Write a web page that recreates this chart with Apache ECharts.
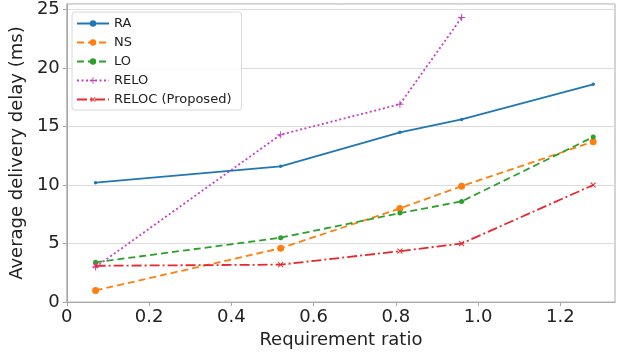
<!DOCTYPE html>
<html>
<head>
<meta charset="utf-8">
<script src="https://cdn.jsdelivr.net/npm/echarts@6/dist/echarts.min.js"></script>
<style>html,body{margin:0;padding:0;background:#fff}#c{width:628px;height:354px}</style>
</head>
<body>
<div id="c"></div>
<script>
const xVals = [0.07, 0.52, 0.81, 0.96, 1.28];
const seriesNames = ['RA', 'NS', 'LO', 'RELO', 'RELOC (Proposed)'];
const RA = [10.2, 11.6, 14.5, 15.6, 18.6];
const NS = [1.0, 4.6, 8.0, 9.9, 13.7];
const LO = [3.4, 5.5, 7.6, 8.6, 14.1];
const RELO = [3.0, 14.3, 16.9, 24.3];
const RELOC = [3.1, 3.2, 4.35, 5.0, 10.0];
const xTicks = [0, 0.2, 0.4, 0.6, 0.8, 1.0, 1.2];
const yTicks = [0, 5, 10, 15, 20, 25];

const pairs = (ys) => ys.map((y, i) => [xVals[i], y]);
const PLUS = 'path://M-0.14,-1 L0.14,-1 L0.14,-0.14 L1,-0.14 L1,0.14 L0.14,0.14 L0.14,1 L-0.14,1 L-0.14,0.14 L-1,0.14 L-1,-0.14 L-0.14,-0.14 Z';
const FONT = 'DejaVu Sans';

function mk(name, data, color, type, width, symbol, size, rot) {
  return {
    name, type: 'line', data: pairs(data), color,
    lineStyle: { color, width, type },
    itemStyle: { color },
    symbol, symbolSize: size, symbolRotate: rot || 0,
    showSymbol: true, silent: true, animation: false,
    emphasis: { disabled: true }
  };
}

const chart = echarts.init(document.getElementById('c'), null, { renderer: 'canvas' });
chart.setOption({
  animation: false,
  grid: { left: 66, right: 13, top: 4, bottom: 49.5, show: true, borderColor: '#a8a8a8', borderWidth: 1, backgroundColor: 'transparent' },
  legend: {
    orient: 'vertical', left: 72, top: 12,
    padding: [5, 10, 4, 4], itemGap: 6, itemWidth: 32, itemHeight: 8,
    backgroundColor: 'rgba(255,255,255,0.85)', borderColor: '#d8d8d8', borderWidth: 1, borderRadius: 3,
    textStyle: { fontFamily: FONT, fontSize: 13, color: '#222' },
    data: seriesNames
  },
  xAxis: {
    type: 'value', min: 0, max: 1.333, interval: 0.2,
    name: 'Requirement ratio', nameLocation: 'middle', nameGap: 19,
    nameTextStyle: { fontFamily: FONT, fontSize: 18, color: '#222' },
    axisLine: { show: true, lineStyle: { color: '#a8a8a8' } },
    axisTick: { show: true, length: 4, lineStyle: { color: '#a8a8a8' } },
    splitLine: { show: false },
    axisLabel: {
      fontFamily: FONT, fontSize: 18, color: '#222', margin: 6, showMaxLabel: false,
      formatter: v => { const t = xTicks.find(k => Math.abs(k - v) < 1e-6); return t === undefined ? '' : (t === 0 ? '0' : t.toFixed(1)); }
    }
  },
  yAxis: {
    type: 'value', min: 0, max: 25.46, interval: 5,
    name: 'Average delivery delay (ms)', nameLocation: 'middle', nameGap: 31, nameRotate: 90,
    nameTextStyle: { fontFamily: FONT, fontSize: 18, color: '#222' },
    axisLine: { show: true, lineStyle: { color: '#a8a8a8' } },
    axisTick: { show: true, length: 4, lineStyle: { color: '#a8a8a8' } },
    splitLine: { show: true, lineStyle: { color: '#dcdcdc', width: 1 } },
    axisLabel: {
      fontFamily: FONT, fontSize: 18, color: '#222', margin: 7, showMaxLabel: false,
      formatter: v => { const t = yTicks.find(k => Math.abs(k - v) < 1e-6); return t === undefined ? '' : String(t); }
    }
  },
  series: [
    mk('RA', RA, '#1f77b4', 'solid', 1.8, 'circle', 3.5),
    mk('NS', NS, '#ff7f0e', [7, 4], 1.8, 'circle', 7),
    mk('LO', LO, '#2ca02c', [7, 4], 1.8, 'circle', 5),
    mk('RELO', RELO, '#c83ec8', [2, 2.5], 1.8, PLUS, 7),
    mk('RELOC (Proposed)', RELOC, '#e8282c', [10, 3, 2, 3], 1.8, PLUS, 7, 45)
  ]
});
</script>
</body>
</html>
